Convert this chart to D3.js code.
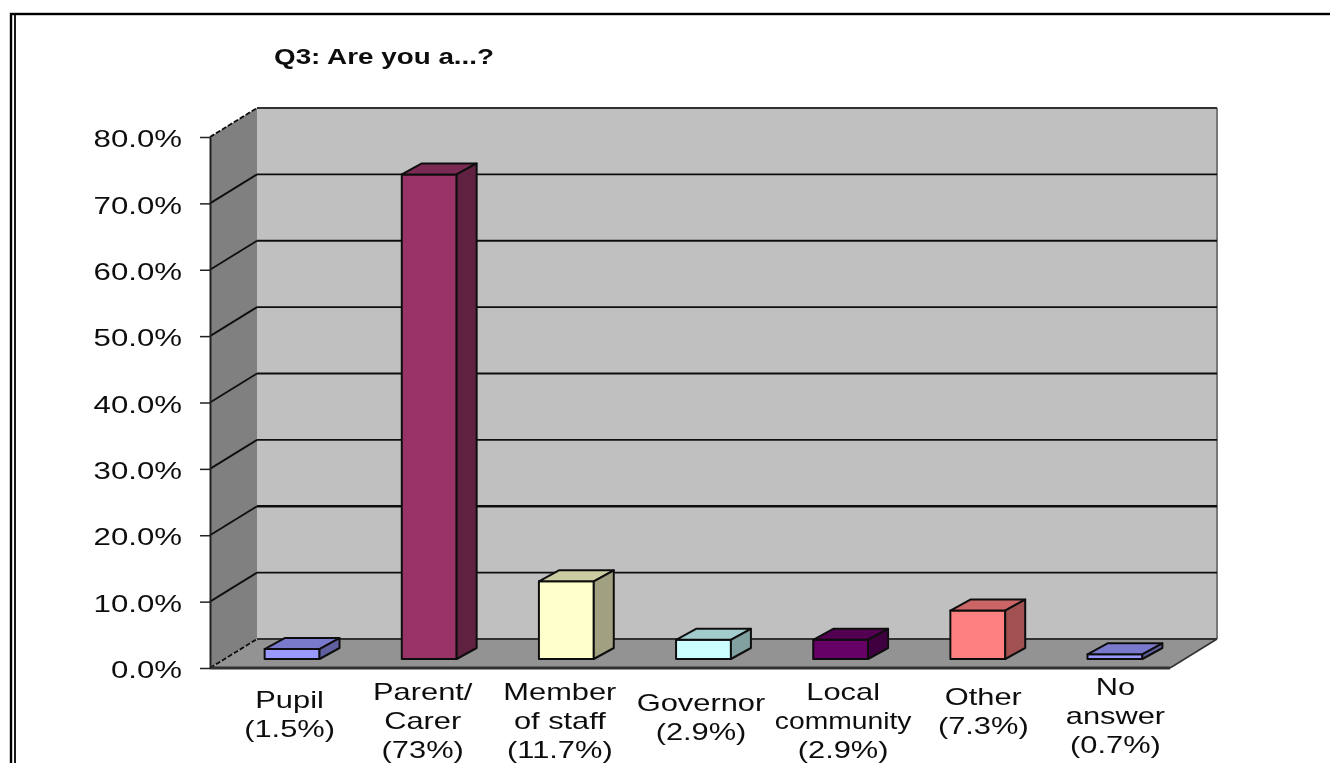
<!DOCTYPE html>
<html>
<head>
<meta charset="utf-8">
<style>
  html, body { margin: 0; padding: 0; background: #fff; overflow: hidden; }
  svg { display: block; }
  text { font-family: "Liberation Sans", Arial, sans-serif; fill: #111; }
</style>
</head>
<body>
<svg id="chart" width="1330" height="763"></svg>
<script src="https://cdn.jsdelivr.net/npm/d3@7"></script>
<script>
const categories = ["Pupil", "Parent/Carer", "Member of staff", "Governor", "Local community", "Other", "No answer"];
const values = [1.5, 73, 11.7, 2.9, 2.9, 7.3, 0.7];
const categoryLines = [
    ["Pupil", "(1.5%)"],
    ["Parent/", "Carer", "(73%)"],
    ["Member", "of staff", "(11.7%)"],
    ["Governor", "(2.9%)"],
    ["Local", "community", "(2.9%)"],
    ["Other", "(7.3%)"],
    ["No", "answer", "(0.7%)"]
];
const barColors = ["#9999ff", "#993366", "#ffffcc", "#ccffff", "#660066", "#ff8080", "#9999ff"];
const yTicks = [0, 10, 20, 30, 40, 50, 60, 70, 80];
const titleText = "Q3: Are you a...?";

const root = d3.select("#chart");

// the source is a soft, upscaled screenshot
root.append("defs").append("filter")
    .attr("id", "soft")
    .attr("filterUnits", "userSpaceOnUse")
    .attr("x", 0).attr("y", 0).attr("width", 1330).attr("height", 763)
    .append("feGaussianBlur").attr("stdDeviation", 0.45);
const svg = root.append("g").attr("filter", "url(#soft)");

// the source image is stretched sideways, so text is stretched as well
const stretch = 1.3;

const x = d3.scaleBand()
    .domain(categories)
    .range([210, 1170])
    .paddingInner(0.6)
    .paddingOuter(0.3);
const y = d3.scaleLinear().domain([0, 80]).range([668, 137]);

// depth of the 3d box and of each bar
const depth = { x: 47, y: -29 };
const barShift = { x: 13.5, y: -9 };
const barDepth = { x: 20, y: -11 };

function poly(pts, fill, stroke, width) {
    return svg.append("polygon")
        .attr("points", pts.map(p => p.join(",")).join(" "))
        .attr("fill", fill)
        .attr("stroke", stroke || "none")
        .attr("stroke-width", width || 0)
        .attr("stroke-linejoin", "round");
}

function shade(color, k) {
    const c = d3.rgb(color);
    return d3.rgb(c.r * k, c.g * k, c.b * k).formatHex();
}

// page frame
svg.append("rect").attr("x", 11).attr("y", 14).attr("width", 1330).attr("height", 800)
    .attr("fill", "none").attr("stroke", "#000").attr("stroke-width", 2.4);
svg.append("line").attr("x1", 15).attr("x2", 15).attr("y1", 14).attr("y2", 763)
    .attr("stroke", "#000").attr("stroke-width", 1.8);

// walls and floor
const x0 = 210, x1 = 1170;
const yTop = y(80), yBottom = y(0);
poly([[x0 + depth.x, yTop + depth.y], [x1 + depth.x, yTop + depth.y], [x1 + depth.x, yBottom + depth.y], [x0 + depth.x, yBottom + depth.y]], "#c0c0c0");
poly([[x0, yTop], [x0 + depth.x, yTop + depth.y], [x0 + depth.x, yBottom + depth.y], [x0, yBottom]], "#808080");
poly([[x0, yBottom], [x0 + depth.x, yBottom + depth.y], [x1 + depth.x, yBottom + depth.y], [x1, yBottom]], "#939393");

// wall edge on the right and top
svg.append("path")
    .attr("d", `M${x1 + depth.x},${yTop + depth.y}V${yBottom + depth.y}`)
    .attr("fill", "none").attr("stroke", "#777").attr("stroke-width", 2);
svg.append("path")
    .attr("d", `M${x1 + depth.x},${yBottom + depth.y}L${x1},${yBottom}`)
    .attr("fill", "none").attr("stroke", "#333").attr("stroke-width", 1.6);
svg.append("line")
    .attr("x1", x0 + depth.x).attr("x2", x1 + depth.x)
    .attr("y1", yTop + depth.y).attr("y2", yTop + depth.y)
    .attr("stroke", "#333").attr("stroke-width", 2);

// gridlines: straight across the back, then diagonal down the side wall
svg.append("g").selectAll("line")
    .data(yTicks.filter(d => d !== 80))
    .join("line")
    .attr("x1", x0 + depth.x).attr("x2", x1 + depth.x)
    .attr("y1", d => y(d) + depth.y).attr("y2", d => y(d) + depth.y)
    .attr("stroke", d => d === 0 ? "#333" : "#111")
    .attr("stroke-width", d => d === 20 ? 2.6 : 1.8);
svg.append("g").selectAll("line")
    .data(yTicks)
    .join("line")
    .attr("x1", x0).attr("x2", x0 + depth.x)
    .attr("y1", d => y(d)).attr("y2", d => y(d) + depth.y)
    .attr("stroke", "#111")
    .attr("stroke-width", 1.8)
    .attr("stroke-dasharray", d => d === 0 || d === 80 ? "5 2" : null);

// front floor edge
svg.append("line").attr("x1", x0).attr("x2", x1).attr("y1", yBottom).attr("y2", yBottom)
    .attr("stroke", "#333").attr("stroke-width", 3);

// bars
values.forEach((v, i) => {
    const l = x(categories[i]) + barShift.x;
    const r = l + x.bandwidth();
    const b = yBottom + barShift.y;
    const t = y(v) + barShift.y;
    const c = barColors[i];
    poly([[l, t], [r, t], [r, b], [l, b]], c, "#111", 2);
    poly([[l, t], [l + barDepth.x, t + barDepth.y], [r + barDepth.x, t + barDepth.y], [r, t]], shade(c, 0.8), "#111", 2);
    poly([[r, t], [r + barDepth.x, t + barDepth.y], [r + barDepth.x, b + barDepth.y], [r, b]], shade(c, 0.63), "#111", 2);
});

// y axis
const axis = d3.axisLeft(y)
    .tickValues(yTicks)
    .tickFormat(d => d.toFixed(1) + "%")
    .tickSize(10)
    .tickSizeOuter(0);
const axisG = svg.append("g").attr("transform", `translate(${x0},0)`).call(axis);
axisG.select(".domain").attr("stroke", "#222").attr("stroke-width", 2);
axisG.selectAll(".tick line").attr("stroke", "#222").attr("stroke-width", 1.5);
axisG.selectAll(".tick text")
    .attr("x", 0)
    .attr("dy", "0.36em")
    .attr("font-size", 24)
    .attr("transform", `translate(-28,1) scale(${stretch},1)`);

// category labels, nudged from the band centre as in the source
const labelNudge = [11, 7, 7, 11, 16, 19, 14];
const labelFirstLine = [708, 700, 700, 711, 700, 705, 695];
const lineGap = 29;
const labels = svg.append("g").selectAll("g")
    .data(categoryLines)
    .join("g")
    .attr("transform", (d, i) => `translate(${x(categories[i]) + x.bandwidth() / 2 + labelNudge[i]},${labelFirstLine[i]}) scale(1.34,1)`);
labels.selectAll("text")
    .data(d => d)
    .join("text")
    .attr("text-anchor", "middle")
    .attr("y", (d, i) => i * lineGap)
    .attr("font-size", 23)
    .attr("textLength", d => d === "community" ? 102 : null)
    .attr("lengthAdjust", "spacingAndGlyphs")
    .text(d => d);

// title
svg.append("text")
    .attr("transform", "translate(274,64) scale(1.265,1)")
    .attr("font-size", 22)
    .attr("font-weight", "bold")
    .text(titleText);
</script>
</body>
</html>
